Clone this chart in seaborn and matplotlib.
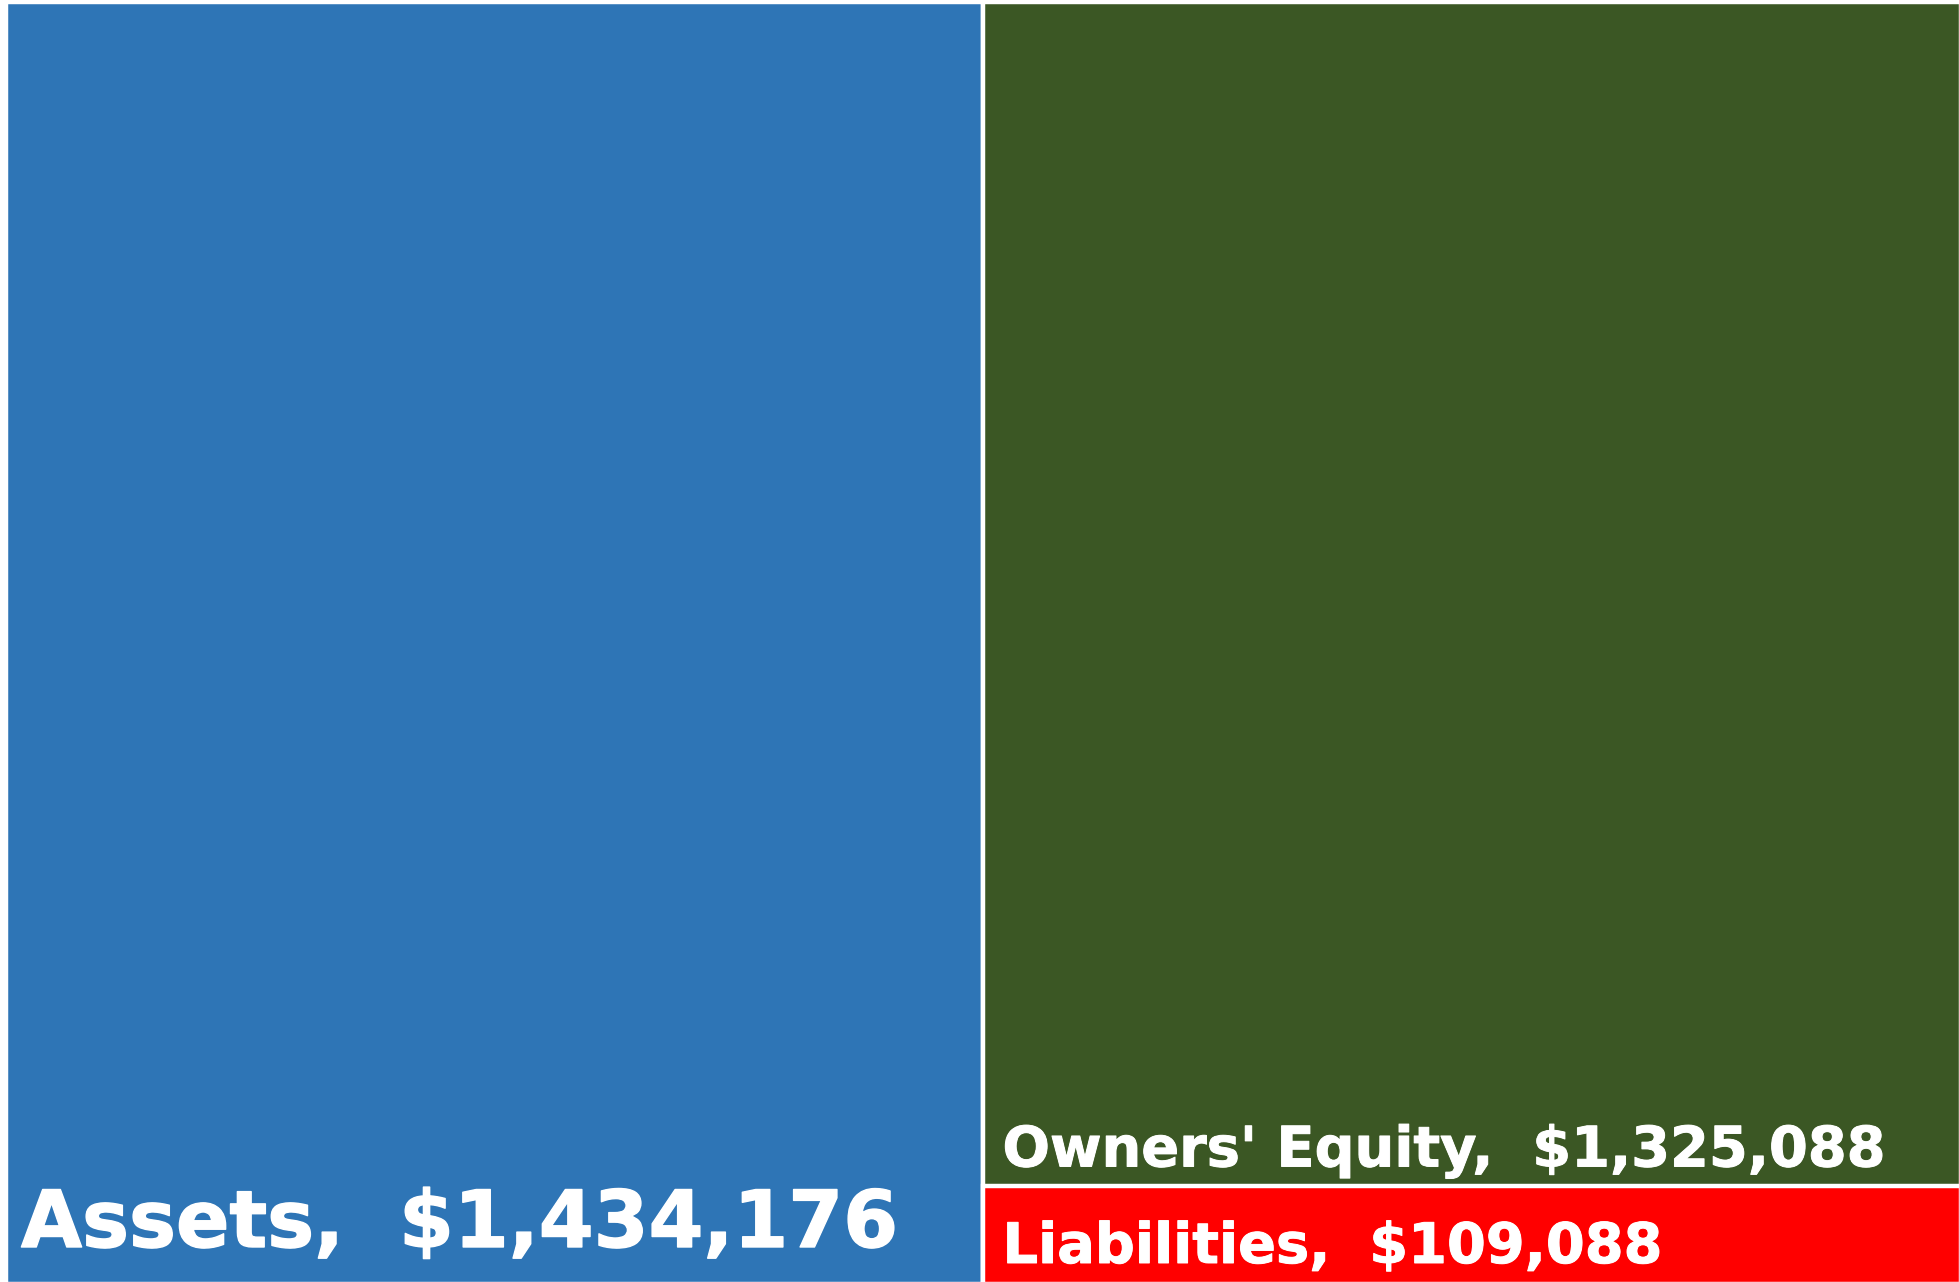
import pandas as pd
import seaborn as sns
import matplotlib.pyplot as plt
import matplotlib.patheffects as pe

# Balance sheet values
categories = ["Assets", "Liabilities", "Owners' Equity"]
values = [1434176, 109088, 1325088]
columns = ["Assets", "Claims", "Claims"]
colors = {"Assets": "#2E75B6", "Liabilities": "#FF0000", "Owners' Equity": "#3B5724"}

df = pd.DataFrame({"category": categories, "value": values, "column": columns})

sns.set_theme(style="white")
plt.rcParams["font.family"] = ["DejaVu Sans"]

fig = plt.figure(figsize=(19.59, 12.82), dpi=100)
ax = fig.add_axes([6 / 1959, -2 / 1282, 1955 / 1959, 1.0])

# Treemap drawn as two stacked full-width columns
order = ["Assets", "Claims"]
assets = df[df["category"] == "Assets"].copy()
claims_total = df[df["column"] == "Claims"]["value"].sum()
equity_top = pd.DataFrame({"category": ["Owners' Equity"], "value": [claims_total], "column": ["Claims"]})
liab = df[df["category"] == "Liabilities"]

base = pd.concat([assets, equity_top])
sns.barplot(data=base, x="column", y="value", hue="category", order=order,
            palette=colors, saturation=1, width=1, edgecolor="white", linewidth=3.2,
            legend=False, ax=ax, errorbar=None, dodge=False)
sns.barplot(data=liab, x="column", y="value", hue="category", order=order,
            palette=colors, saturation=1, width=1, edgecolor="white", linewidth=3.2,
            legend=False, ax=ax, errorbar=None, dodge=False)

ax.set_xlim(-0.5, 1.5)
ax.set_ylim(0, claims_total)
ax.set_axis_off()

# Labels in the bottom-left corner of each tile
liab_val = liab["value"].iloc[0]
labels = [
    ("Assets", -0.5, 0, 15, 37, 56.8, 1.0),
    ("Owners' Equity", 0.5, liab_val, 19, 20, 40.2, 0.7),
    ("Liabilities", 0.5, 0, 19, 21, 40.2, 0.7),
]
for name, x0, y0, dx, dy, size, stroke in labels:
    v = df.loc[df["category"] == name, "value"].iloc[0]
    ax.annotate(f"{name},  ${v:,.0f}", xy=(x0, y0), xytext=(dx, dy),
                textcoords="offset pixels", ha="left", va="baseline",
                color="white", fontsize=size, fontweight="bold",
                path_effects=[pe.withStroke(linewidth=stroke, foreground="white")])

fig.savefig("out.png", dpi=100)
